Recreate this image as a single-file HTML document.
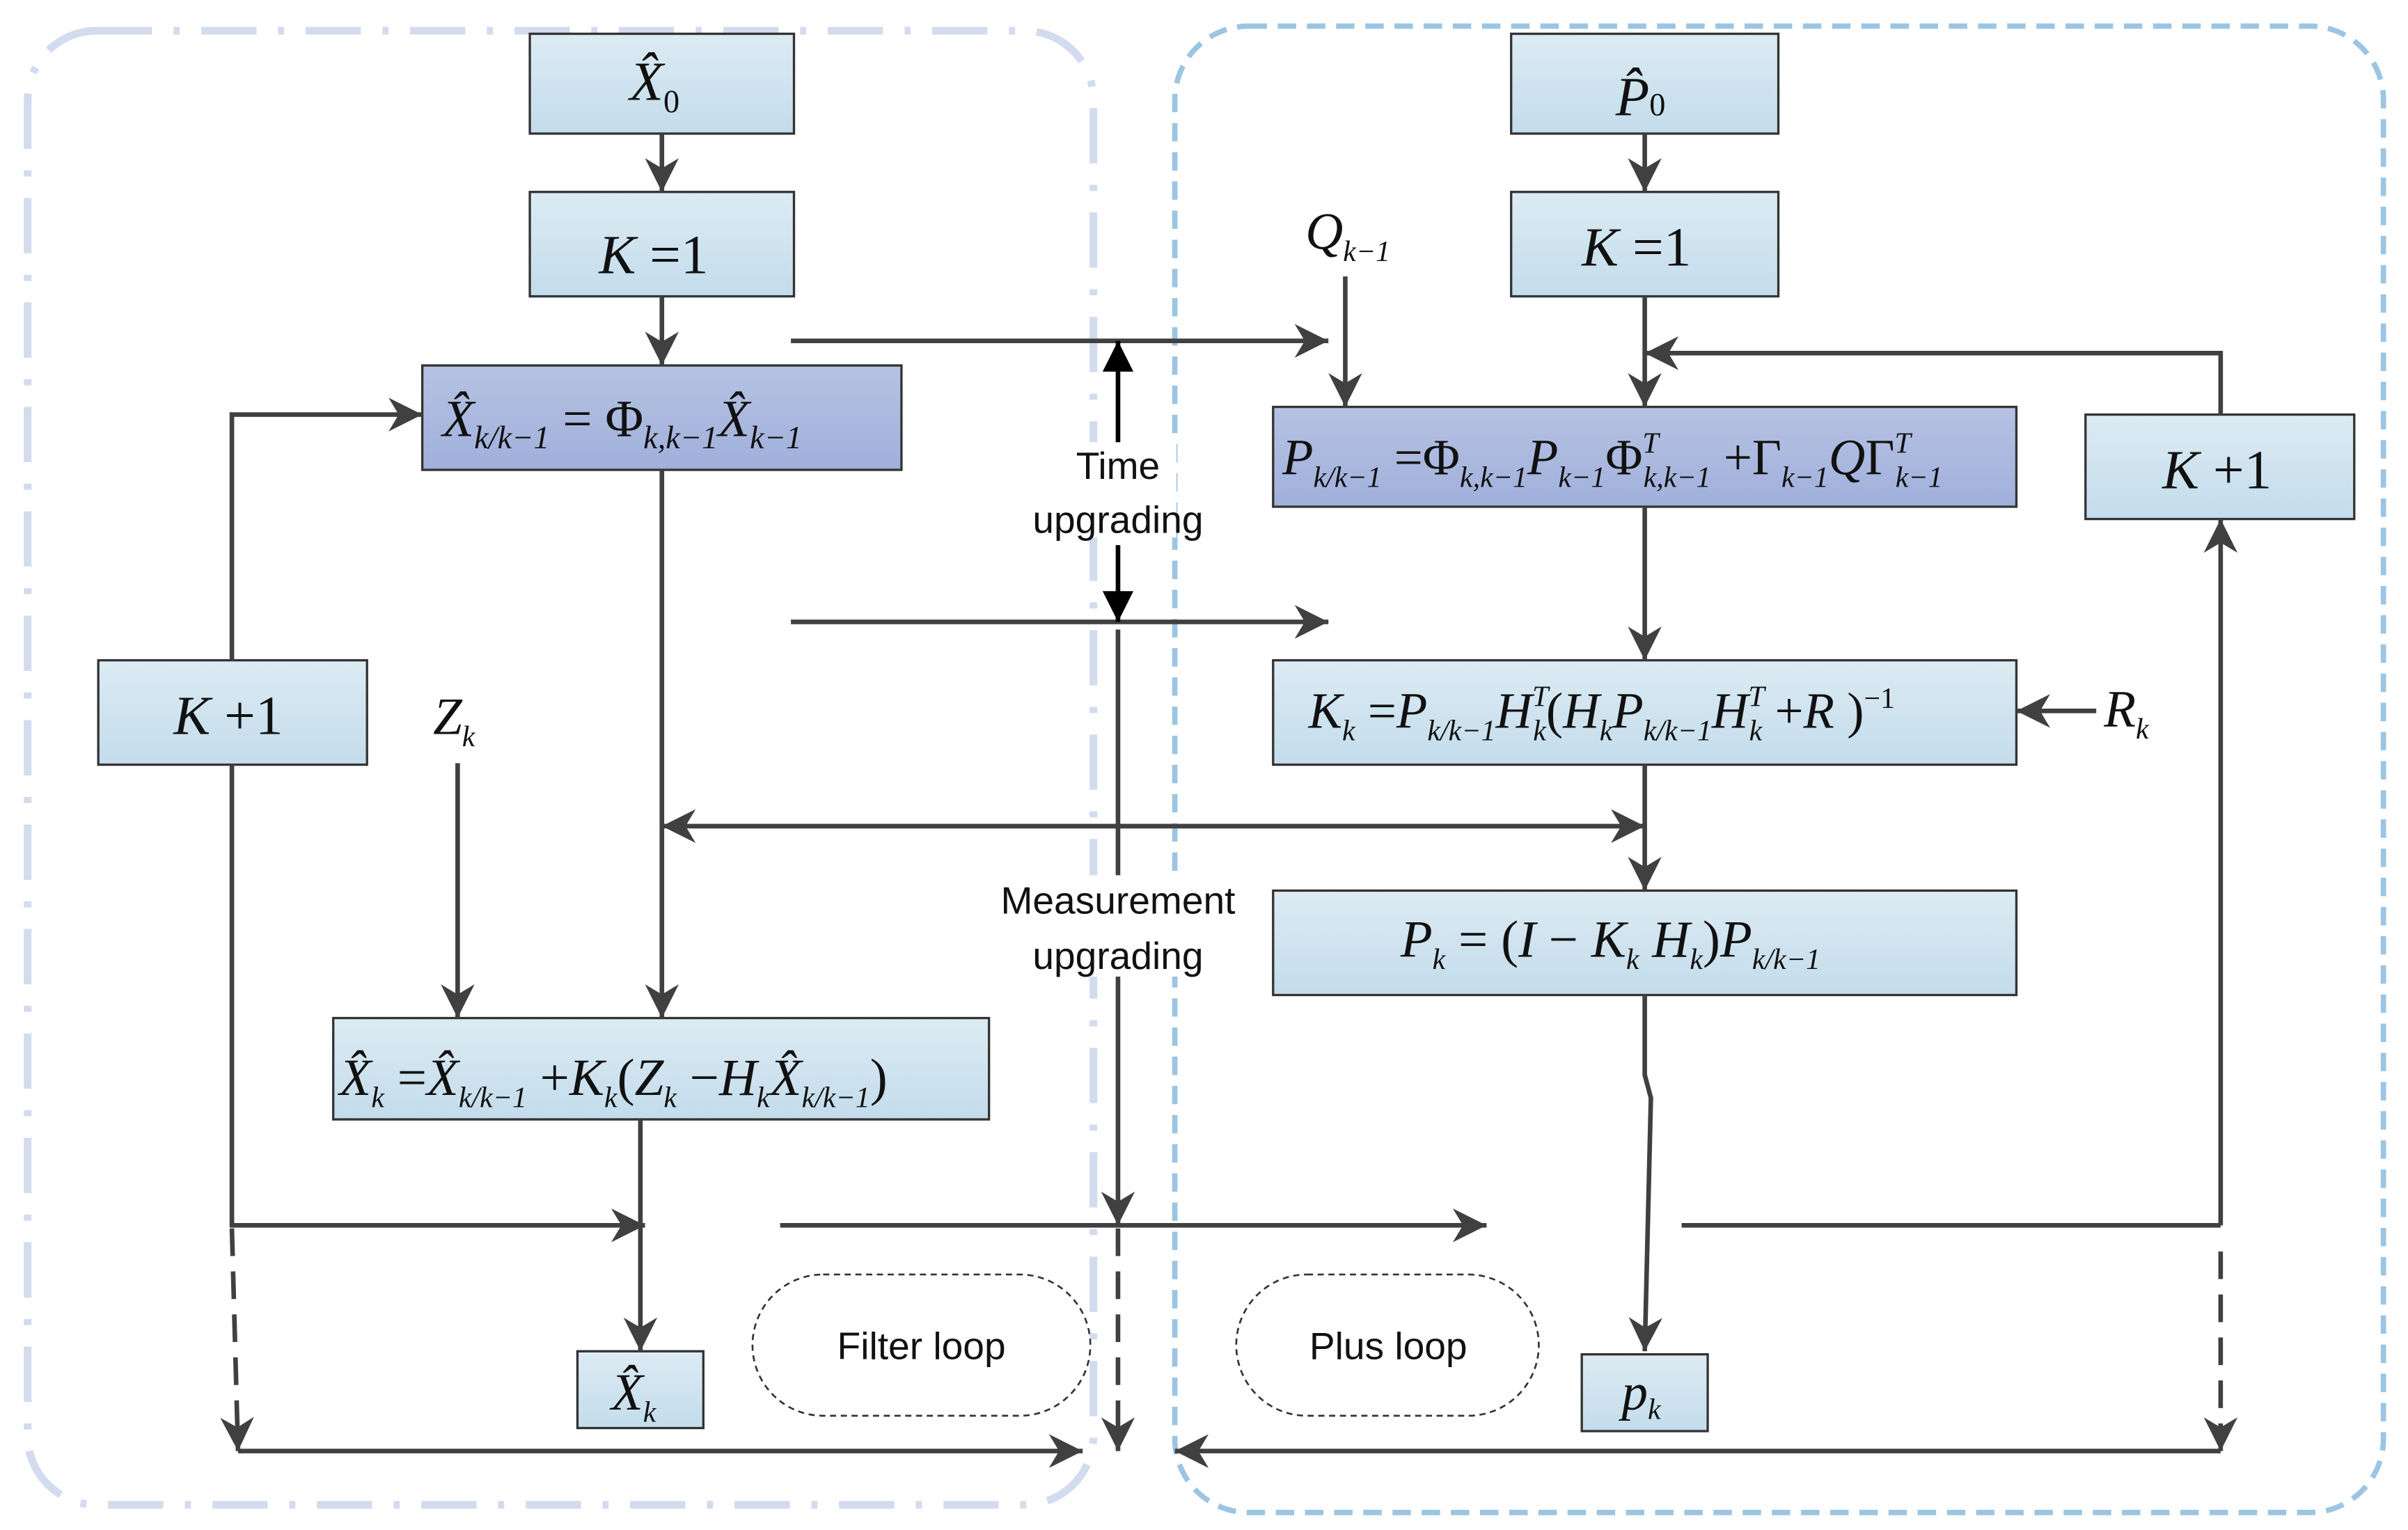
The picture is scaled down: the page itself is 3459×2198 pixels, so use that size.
<!DOCTYPE html>
<html><head><meta charset="utf-8"><style>
html,body{margin:0;padding:0;background:#fff;}
svg{display:block;}
.m{font-family:"Liberation Serif",serif;font-style:italic;fill:#111;}
.r{font-family:"Liberation Serif",serif;font-style:normal;}
.s{font-family:"Liberation Sans",sans-serif;font-size:25px;fill:#111;}
.ln{stroke:#404040;stroke-width:3;fill:none;}
.bx{stroke:#333;stroke-width:1.5;}
</style></head><body>
<svg width="3459" height="2198" viewBox="0 0 1568 996.4" preserveAspectRatio="none" xmlns="http://www.w3.org/2000/svg">
<defs>
<linearGradient id="g1" x1="0" y1="0" x2="0" y2="1"><stop offset="0" stop-color="#dcebf3"/><stop offset="1" stop-color="#c3dceb"/></linearGradient>
<linearGradient id="g2" x1="0" y1="0" x2="0" y2="1"><stop offset="0" stop-color="#b6c2e3"/><stop offset="1" stop-color="#a0b0db"/></linearGradient>
<marker id="ab" viewBox="0 0 10 10" refX="10" refY="5" markerWidth="22" markerHeight="22" orient="auto" markerUnits="userSpaceOnUse"><path d="M0,0 L10,5 L0,10 L3,5z" fill="#404040"/></marker>
<marker id="ak" viewBox="0 0 10 10" refX="10" refY="5" markerWidth="24" markerHeight="20" orient="auto" markerUnits="userSpaceOnUse"><path d="M0,0 L10,5 L0,10z" fill="#000"/></marker>
</defs>
<rect x="18" y="20" width="694" height="960" rx="45" fill="none" stroke="#d3dbee" stroke-width="5" stroke-dasharray="36,14,4,14"/>
<rect x="765" y="17" width="787" height="968" rx="48" fill="none" stroke="#9cc5e2" stroke-width="3.5" stroke-dasharray="12,7"/>
<rect class="bx" x="345" y="22" width="172" height="65" fill="url(#g1)"/>
<rect class="bx" x="345" y="125" width="172" height="68" fill="url(#g1)"/>
<rect class="bx" x="275" y="238" width="312" height="68" fill="url(#g2)"/>
<rect class="bx" x="64" y="430" width="175" height="68" fill="url(#g1)"/>
<rect class="bx" x="217" y="663" width="427" height="66" fill="url(#g1)"/>
<rect class="bx" x="376" y="880" width="82" height="50" fill="url(#g1)"/>
<rect class="bx" x="984" y="22" width="174" height="65" fill="url(#g1)"/>
<rect class="bx" x="984" y="125" width="174" height="68" fill="url(#g1)"/>
<rect class="bx" x="829" y="265" width="484" height="65" fill="url(#g2)"/>
<rect class="bx" x="1358" y="270" width="175" height="68" fill="url(#g1)"/>
<rect class="bx" x="829" y="430" width="484" height="68" fill="url(#g1)"/>
<rect class="bx" x="829" y="580" width="484" height="68" fill="url(#g1)"/>
<rect class="bx" x="1030" y="882" width="82" height="50" fill="url(#g1)"/>
<rect x="490" y="830" width="220" height="92" rx="46" fill="#fff" stroke="#333" stroke-width="1.2" stroke-dasharray="4,3"/>
<rect x="805" y="830" width="197" height="92" rx="46" fill="#fff" stroke="#333" stroke-width="1.2" stroke-dasharray="4,3"/>
<text class="s" x="600" y="885" text-anchor="middle">Filter loop</text>
<text class="s" x="904" y="885" text-anchor="middle">Plus loop</text>
<g class="ln">
<line x1="431" y1="87" x2="431" y2="125" marker-end="url(#ab)"/>
<line x1="431" y1="193" x2="431" y2="238" marker-end="url(#ab)"/>
<line x1="1071" y1="87" x2="1071" y2="125" marker-end="url(#ab)"/>
<line x1="1071" y1="193" x2="1071" y2="265" marker-end="url(#ab)"/>
<line x1="876" y1="180" x2="876" y2="265" marker-end="url(#ab)"/>
<polyline points="1446,270 1446,230 1071,230" marker-end="url(#ab)"/>
<line x1="515" y1="222" x2="865" y2="222" marker-end="url(#ab)"/>
<line x1="515" y1="405" x2="865" y2="405" marker-end="url(#ab)"/>
<polyline points="151,430 151,270 275,270" marker-end="url(#ab)"/>
<line x1="431" y1="306" x2="431" y2="663" marker-end="url(#ab)"/>
<line x1="298" y1="497" x2="298" y2="663" marker-end="url(#ab)"/>
<line x1="450" y1="538" x2="1071" y2="538" marker-end="url(#ab)"/>
<line x1="1060" y1="538" x2="431" y2="538" marker-end="url(#ab)"/>
<line x1="1071" y1="330" x2="1071" y2="430" marker-end="url(#ab)"/>
<line x1="1071" y1="498" x2="1071" y2="580" marker-end="url(#ab)"/>
<line x1="1365" y1="463" x2="1313" y2="463" marker-end="url(#ab)"/>
<polyline points="1071,648 1071,700 1075,715 1071,880" marker-end="url(#ab)"/>
<polyline points="151,498 151,798 420,798" marker-end="url(#ab)"/>
<line x1="417" y1="729" x2="417" y2="880" marker-end="url(#ab)"/>
<line x1="508" y1="798" x2="968" y2="798" marker-end="url(#ab)"/>
<line x1="728" y1="410" x2="728" y2="798" marker-end="url(#ab)"/>
<polyline points="1095,798 1446,798"/>
<line x1="1446" y1="798" x2="1446" y2="338" marker-end="url(#ab)"/>
<line x1="151" y1="800" x2="155" y2="945" stroke-dasharray="18,10" marker-end="url(#ab)"/>
<line x1="728" y1="800" x2="728" y2="945" stroke-dasharray="18,10" marker-end="url(#ab)"/>
<line x1="1446" y1="815" x2="1446" y2="945" stroke-dasharray="18,10" marker-end="url(#ab)"/>
<line x1="155" y1="945" x2="705" y2="945" marker-end="url(#ab)"/>
<line x1="1446" y1="945" x2="765" y2="945" marker-end="url(#ab)"/>
</g>
<line x1="728" y1="290" x2="728" y2="222" stroke="#000" stroke-width="3" marker-end="url(#ak)"/>
<line x1="728" y1="355" x2="728" y2="405" stroke="#000" stroke-width="3" marker-end="url(#ak)"/>
<rect x="690" y="288" width="76" height="62" fill="#fff"/>
<text class="s" x="728" y="312" text-anchor="middle">Time</text>
<text class="s" x="728" y="347" text-anchor="middle">upgrading</text>
<rect x="632" y="570" width="192" height="66" fill="#fff"/>
<text class="s" x="728" y="595" text-anchor="middle">Measurement</text>
<text class="s" x="728" y="631" text-anchor="middle">upgrading</text>
<text class="m" x="410" y="65" font-size="36">X̂<tspan class="r" font-size="21" dy="8">0</tspan></text>
<text class="m" x="390" y="178" font-size="36">K <tspan class="r">=1</tspan></text>
<text class="m" x="288" y="284" font-size="34">X̂<tspan font-size="21" dy="8">k/k−1</tspan><tspan class="r" dy="-8"> = Φ</tspan><tspan font-size="21" dy="8">k,k−1</tspan><tspan dy="-8">X̂</tspan><tspan font-size="21" dy="8">k−1</tspan></text>
<text class="m" x="113" y="478" font-size="36">K <tspan class="r">+1</tspan></text>
<text class="m" x="282" y="478" font-size="34">Z<tspan font-size="19" dy="8">k</tspan></text>
<text class="m" x="221" y="713" font-size="34">X̂<tspan font-size="19" dy="8">k</tspan><tspan class="r" dy="-8"> =</tspan><tspan>X̂</tspan><tspan font-size="19" dy="8">k/k−1</tspan><tspan class="r" dy="-8"> +</tspan><tspan>K</tspan><tspan font-size="19" dy="8">k</tspan><tspan class="r" dy="-8">(</tspan><tspan>Z</tspan><tspan font-size="19" dy="8">k</tspan><tspan class="r" dy="-8"> −</tspan><tspan>H</tspan><tspan font-size="19" dy="8">k</tspan><tspan dy="-8">X̂</tspan><tspan font-size="19" dy="8">k/k−1</tspan><tspan class="r" dy="-8">)</tspan></text>
<text class="m" x="398" y="918" font-size="34">X̂<tspan font-size="19" dy="8">k</tspan></text>
<text class="m" x="1052" y="75" font-size="36">P̂<tspan class="r" font-size="21">0</tspan></text>
<text class="m" x="1030" y="173" font-size="36">K <tspan class="r">=1</tspan></text>
<text class="m" x="850" y="162" font-size="34">Q<tspan font-size="19" dy="8">k−1</tspan></text>
<text class="m" x="835" y="309" font-size="33">P<tspan font-size="19" dy="8">k/k−1</tspan><tspan class="r" dy="-8"> =Φ</tspan><tspan font-size="19" dy="8">k,k−1</tspan><tspan dy="-8">P</tspan><tspan font-size="19" dy="8">k−1</tspan><tspan class="r" dy="-8">Φ</tspan><tspan font-size="19" dy="-14">T</tspan><tspan font-size="19" dx="-10" dy="22">k,k−1</tspan><tspan class="r" dy="-8"> +Γ</tspan><tspan font-size="19" dy="8">k−1</tspan><tspan dy="-8">Q</tspan><tspan class="r">Γ</tspan><tspan font-size="19" dy="-14">T</tspan><tspan font-size="19" dx="-10" dy="22">k−1</tspan></text>
<text class="m" x="1408" y="318" font-size="36">K <tspan class="r">+1</tspan></text>
<text class="m" x="852" y="474" font-size="33">K<tspan font-size="19" dy="8">k</tspan><tspan class="r" dy="-8"> =</tspan><tspan>P</tspan><tspan font-size="19" dy="8">k/k−1</tspan><tspan dy="-8">H</tspan><tspan font-size="19" dy="-14">T</tspan><tspan font-size="19" dx="-10" dy="22">k</tspan><tspan class="r" dy="-8">(</tspan><tspan>H</tspan><tspan font-size="19" dy="8">k</tspan><tspan dy="-8">P</tspan><tspan font-size="19" dy="8">k/k−1</tspan><tspan dy="-8">H</tspan><tspan font-size="19" dy="-14">T</tspan><tspan font-size="19" dx="-10" dy="22">k</tspan><tspan class="r" dy="-8"> +</tspan><tspan>R </tspan><tspan class="r">)</tspan><tspan class="r" font-size="19" dy="-13">−1</tspan></text>
<text class="m" x="1370" y="473" font-size="34">R<tspan font-size="19" dy="8">k</tspan></text>
<text class="m" x="912" y="623" font-size="34">P<tspan font-size="19" dy="8">k</tspan><tspan class="r" dy="-8"> = (</tspan><tspan>I </tspan><tspan class="r">−</tspan><tspan> K</tspan><tspan font-size="19" dy="8">k</tspan><tspan dy="-8"> H</tspan><tspan font-size="19" dy="8">k</tspan><tspan class="r" dy="-8">)</tspan><tspan>P</tspan><tspan font-size="19" dy="8">k/k−1</tspan></text>
<text class="m" x="1056" y="918" font-size="34">p<tspan font-size="19" dy="6">k</tspan></text>
</svg>
</body></html>
